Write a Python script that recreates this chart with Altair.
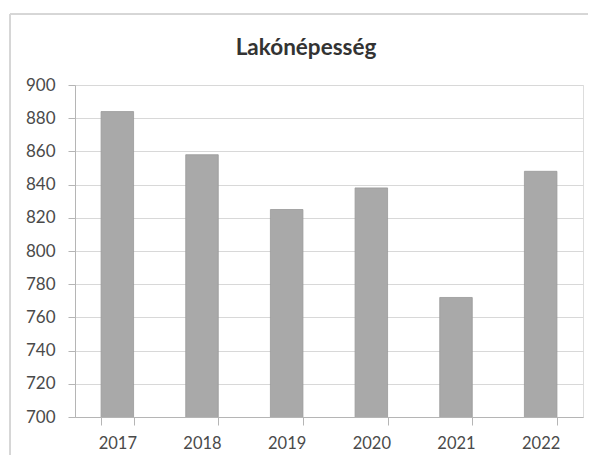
import altair as alt
import pandas as pd

years = ["2017", "2018", "2019", "2020", "2021", "2022"]
population = [884, 858, 825, 838, 772, 848]
title_text = "Lakónépesség"

df = pd.DataFrame({"year": years, "value": population})
title_df = pd.DataFrame({"t": [title_text]})

FONT = "Lato"
LABEL_COLOR = "#4a4a4a"

bars = alt.Chart(df).mark_bar(
    color="#a9a9a9", stroke="#999999", strokeWidth=0.8, clip=True
).encode(
    x=alt.X(
        "year:N",
        sort=years,
        title=None,
        scale=alt.Scale(paddingInner=0.616, paddingOuter=0.308),
        axis=alt.Axis(
            labelAngle=0,
            labelFontSize=16.5,
            labelFont=FONT,
            labelColor=LABEL_COLOR,
            labelPadding=10,
            tickBand="extent",
            tickSize=8,
            tickColor="#b5b5b5",
            domainColor="#b5b5b5",
            grid=False,
        ),
    ),
    y=alt.Y(
        "value:Q",
        title=None,
        scale=alt.Scale(domain=[700, 900], nice=False, zero=False),
        axis=alt.Axis(
            values=list(range(700, 901, 20)),
            labelFontSize=17,
            labelFont=FONT,
            labelColor=LABEL_COLOR,
            labelPadding=13,
            tickSize=7,
            tickColor="#b5b5b5",
            domainColor="#b5b5b5",
            gridColor="#d8d8d8",
        ),
    ),
)

frame_left = alt.Chart(df).mark_rule(color="#d6d6d6", strokeWidth=1).encode(
    x=alt.value(-65), y=alt.value(-71), y2=alt.value(370)
)
frame_top = alt.Chart(df).mark_rule(color="#d6d6d6", strokeWidth=1).encode(
    x=alt.value(-65), x2=alt.value(513), y=alt.value(-71)
)

title = alt.Chart(title_df).mark_text(
    font=FONT, fontSize=22.5, fontWeight="bold", color="#333333",
    align="center", baseline="alphabetic",
).encode(
    text="t:N", x=alt.value(231), y=alt.value(-30)
)

chart = alt.layer(frame_left, frame_top, bars, title).properties(
    width=508,
    height=332,
    autosize=alt.AutoSizeParams(type="none"),
    padding={"left": 67, "top": 77, "right": 5, "bottom": 38},
).configure_view(stroke=None).configure(background="white")

chart.save("out.html", embed_options={"renderer": "svg", "actions": False})
